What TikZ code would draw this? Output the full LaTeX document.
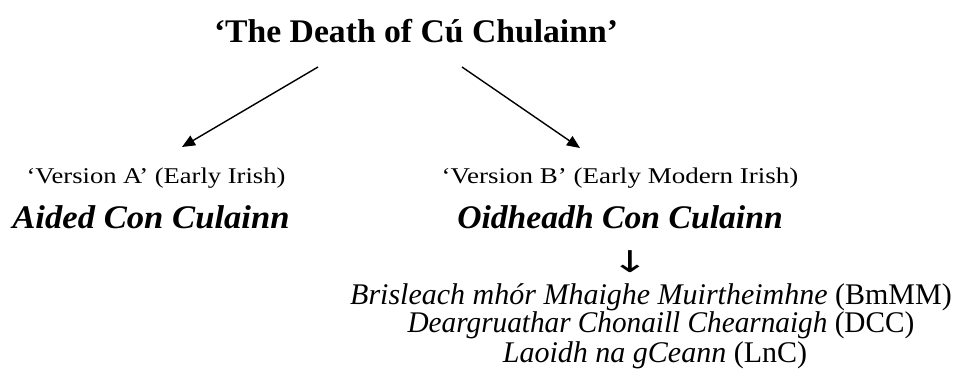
\documentclass[tikz,border=0pt]{standalone}
\usepackage{fontspec}
\setmainfont{Liberation Serif}[
  BoldFont={Liberation Serif Bold},
  ItalicFont={Liberation Serif Italic},
  BoldItalicFont={Liberation Serif Bold Italic}]
\newfontfamily\symfont{DejaVu Sans}
\usetikzlibrary{arrows.meta}
\newcommand\sx[2]{\scalebox{#1}[1]{#2}}
\begin{document}
\begin{tikzpicture}[x=1pt,y=1pt,
  txt/.style={inner sep=0pt,anchor=base},
  conn/.style={line width=1.4pt,-{Triangle[length=13pt,width=11pt]}}]
\useasboundingbox (0,0) rectangle (963,388);
\node[txt] (title) at (416,345) {\fontsize{33}{40}\selectfont\sx{1.02}{\bfseries ‘The Death of Cú Chulainn’}};
\node[txt] (verA) at (156,204) {\fontsize{22.5}{27}\selectfont\sx{1.18}{‘Version A’ (Early Irish)}};
\node[txt] (aided) at (151,159) {\fontsize{33}{40}\selectfont\sx{1.05}{\bfseries\itshape Aided Con Culainn}};
\node[txt] (verB) at (620,204) {\fontsize{22.5}{27}\selectfont\sx{1.2}{‘Version B’ (Early Modern Irish)}};
\node[txt] (oid) at (620,159) {\fontsize{33}{40}\selectfont\sx{1.02}{\bfseries\itshape Oidheadh Con Culainn}};
\node[inner sep=0pt] (down) at (630,126) {\symfont\fontsize{30}{34}\selectfont\sx{1.5}{↓}};
\node[txt] (bm) at (651,83) {\fontsize{30}{36}\selectfont\sx{1.0}{\textit{Brisleach mhór Mhaighe Muirtheimhne} (BmMM)}};
\node[txt] (dcc) at (661,55) {\fontsize{30}{36}\selectfont\sx{0.975}{\textit{Deargruathar Chonaill Chearnaigh} (DCC)}};
\node[txt] (lnc) at (655,26) {\fontsize{30}{36}\selectfont\sx{1.0}{\textit{Laoidh na gCeann} (LnC)}};
\coordinate (la) at (318,321);
\coordinate (lb) at (182,241);
\coordinate (ra) at (462,321);
\coordinate (rb) at (580,240);
\draw[conn] (la) -- (lb);
\draw[conn] (ra) -- (rb);
\end{tikzpicture}
\end{document}
